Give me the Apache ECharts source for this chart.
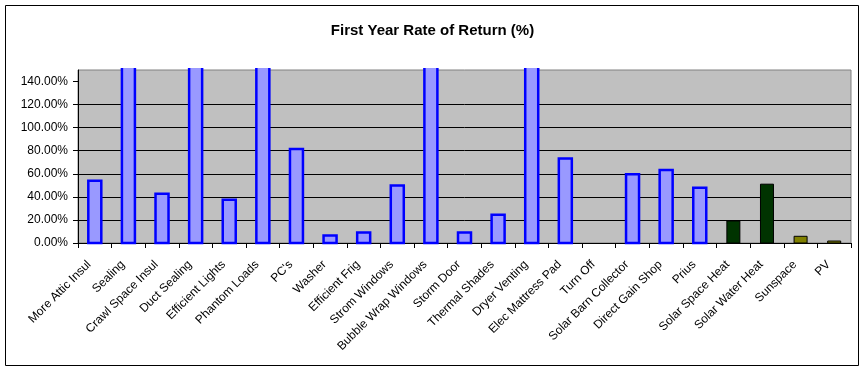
<!DOCTYPE html>
<html>
<head>
<meta charset="utf-8">
<script src="https://cdn.jsdelivr.net/npm/echarts@6/dist/echarts.min.js"></script>
<style>
html,body{margin:0;padding:0;background:#fff;}
#chart{width:865px;height:373px;}
</style>
</head>
<body>
<div id="chart"></div>
<script>
const categories = ["More Attic Insul","Sealing","Crawl Space Insul","Duct Sealing","Efficient Lights","Phantom Loads","PC's","Washer","Efficient Frig","Strom Windows","Bubble Wrap Windows","Storm Door","Thermal Shades","Dryer Venting","Elec Mattress Pad","Turn Off","Solar Barn Collector","Direct Gain Shop","Prius","Solar Space Heat","Solar Water Heat","Sunspace","PV"];
// First year rate of return, percent (values above 150 run off the top of the chart)
const returns = [54, 300, 42.8, 250, 37.6, 400, 81.6, 6.4, 9, 49.8, 200, 9, 24.6, 500, 73.2, 0, 59.6, 63.4, 48, 19.1, 51, 5.8, 1.7];
const groups = ["conservation","conservation","conservation","conservation","conservation","conservation","conservation","conservation","conservation","conservation","conservation","conservation","conservation","conservation","conservation","conservation","conservation","conservation","conservation","solarHeat","solarHeat","solarOther","solarOther"];
const yTicks = [0, 20, 40, 60, 80, 100, 120, 140];

const groupStyle = {
  conservation: {fill: '#9999FF', stroke: '#0000FF', lineWidth: 2.5},
  solarHeat: {fill: '#003300', stroke: '#000000', lineWidth: 1},
  solarOther: {fill: '#808000', stroke: '#000000', lineWidth: 1}
};
const BAR_W = 13;

const chart = echarts.init(document.getElementById('chart'), null, {renderer: 'canvas'});
const font = '"Liberation Sans", Arial, sans-serif';

function renderBar(params, api) {
  const idx = api.value(0);
  const val = api.value(1);
  if (!val) return null;
  const st = groupStyle[groups[params.dataIndex]];
  const base = api.coord([idx, 0]);
  const top = api.coord([idx, val]);
  const cs = params.coordSys;
  const limit = cs.y - 2;
  const clipped = top[1] < limit;
  const ty = clipped ? limit : top[1];
  const l = base[0] - BAR_W / 2, r = base[0] + BAR_W / 2, b = base[1];
  const children = [{
    type: 'rect',
    shape: {x: l, y: ty, width: BAR_W, height: b - ty},
    style: {fill: st.fill, stroke: clipped ? null : st.stroke, lineWidth: st.lineWidth}
  }];
  if (clipped) {
    children.push({
      type: 'polyline',
      shape: {points: [[l, ty], [l, b], [r, b], [r, ty]]},
      style: {fill: null, stroke: st.stroke, lineWidth: st.lineWidth}
    });
  }
  return {type: 'group', children: children};
}

chart.setOption({
  animation: false,
  title: {
    text: 'First Year Rate of Return (%)',
    left: 'center', top: 18,
    textStyle: {fontFamily: font, fontSize: 15, fontWeight: 'bold', color: '#000'}
  },
  graphic: [{
    type: 'rect', shape: {x: 5.5, y: 5.5, width: 853, height: 360},
    style: {fill: 'none', stroke: '#000', lineWidth: 1}, silent: true, z: 100
  }],
  grid: {
    left: 78, right: 14, top: 70, bottom: 130,
    show: true, backgroundColor: '#C0C0C0', borderColor: '#808080', borderWidth: 1
  },
  xAxis: {
    type: 'category',
    data: categories,
    axisLine: {lineStyle: {color: '#000', width: 1}},
    axisTick: {show: true, length: 5, lineStyle: {color: '#000'}},
    axisLabel: {rotate: 45, interval: 0, margin: 14, padding: [0, 8, 0, 0], fontFamily: font, fontSize: 12, color: '#000'}
  },
  yAxis: {
    type: 'value',
    min: 0, max: 150, interval: 10,
    axisLine: {show: true, lineStyle: {color: '#000', width: 1}},
    axisTick: {show: true, length: 5, lineStyle: {color: '#000'}, customValues: yTicks},
    axisLabel: {
      customValues: yTicks, margin: 10, fontFamily: font, fontSize: 12, color: '#000',
      formatter: v => v.toFixed(2) + '%'
    },
    splitLine: {show: true, showMinLine: false, showMaxLine: false, lineStyle: {color: '#000', width: 1}}
  },
  series: [{
    type: 'custom',
    renderItem: renderBar,
    clip: false,
    encode: {x: 0, y: 1},
    data: returns.map((v, i) => [i, v]),
    z: 5
  }]
});
</script>
</body>
</html>
